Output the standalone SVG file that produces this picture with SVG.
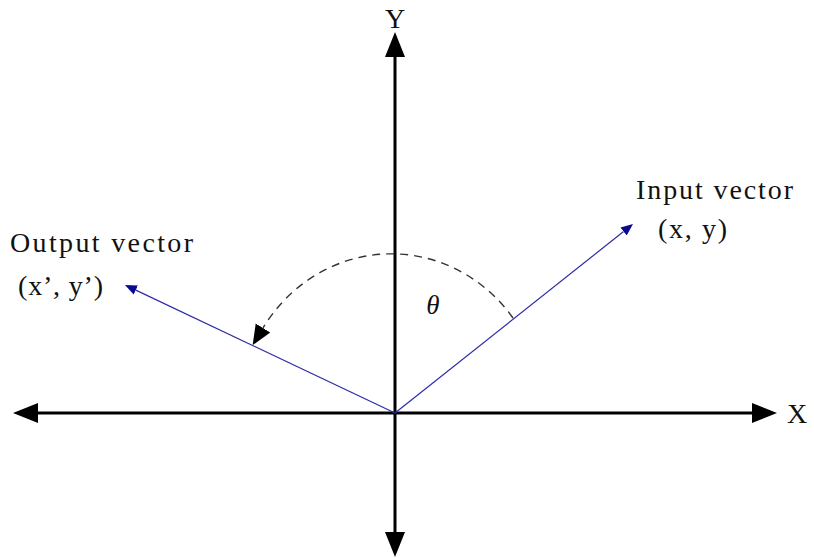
<svg xmlns="http://www.w3.org/2000/svg" width="814" height="558" viewBox="0 0 814 558">
<style>
  .axis { stroke: #000; stroke-width: 3; fill: none; }
  .vec { stroke: #2b2ba8; stroke-width: 1.2; fill: none; }
  .arc { stroke: #333; stroke-width: 1.4; fill: none; stroke-dasharray: 8 6; }
  .lbl { font-family: "Liberation Serif", "DejaVu Serif", serif; font-size: 28px; fill: #111; }
  .theta { font-family: "Liberation Serif", "DejaVu Serif", serif; font-size: 27px; font-style: italic; fill: #111; }
</style>
<defs>
  <marker id="axHead" markerUnits="userSpaceOnUse" markerWidth="26" markerHeight="22" viewBox="0 -11 26 22" refX="0" refY="0" orient="auto-start-reverse">
    <path d="M0,-10 L25,0 L0,10 z" fill="#000"/>
  </marker>
  <marker id="vecHead" markerUnits="userSpaceOnUse" markerWidth="14" markerHeight="12" viewBox="0 -6 14 12" refX="0" refY="0" orient="auto">
    <path d="M0,-5 L12,0 L0,5 z" fill="#0a0a90"/>
  </marker>
  <marker id="arcHead" markerUnits="userSpaceOnUse" markerWidth="22" markerHeight="20" viewBox="0 -10 22 20" refX="0" refY="0" orient="auto">
    <path d="M0,-8.5 L20,0 L0,8.5 z" fill="#000"/>
  </marker>
</defs>
<g id="connectors">
  <line id="x-axis" class="axis" x1="38" y1="413" x2="752" y2="413" marker-start="url(#axHead)" marker-end="url(#axHead)"/>
  <line id="y-axis" class="axis" x1="395" y1="57" x2="395" y2="532" marker-start="url(#axHead)" marker-end="url(#axHead)"/>
  <line id="input-vec" class="vec" x1="395" y1="413" x2="623.6" y2="231.5" marker-end="url(#vecHead)"/>
  <line id="output-vec" class="vec" x1="395" y1="413" x2="135.8" y2="290.1" marker-end="url(#vecHead)"/>
  <path id="rotation-arc" class="arc" d="M513,318 A152,160 0 0 0 263,328" marker-end="url(#arcHead)"/>
</g>
<g id="label-y"><text class="lbl" x="395" y="28" text-anchor="middle">Y</text></g>
<g id="label-x"><text class="lbl" x="787" y="423">X</text></g>
<g id="input-vector">
  <text class="lbl" x="636" y="199" textLength="157">Input vector</text>
  <text class="lbl" x="658" y="238" textLength="69">(x, y)</text>
</g>
<g id="output-vector">
  <text class="lbl" x="10" y="252" textLength="183">Output vector</text>
  <text class="lbl" x="18" y="295" textLength="85">(x’, y’)</text>
</g>
<g id="theta"><text class="theta" x="433" y="314" text-anchor="middle">θ</text></g>
</svg>
